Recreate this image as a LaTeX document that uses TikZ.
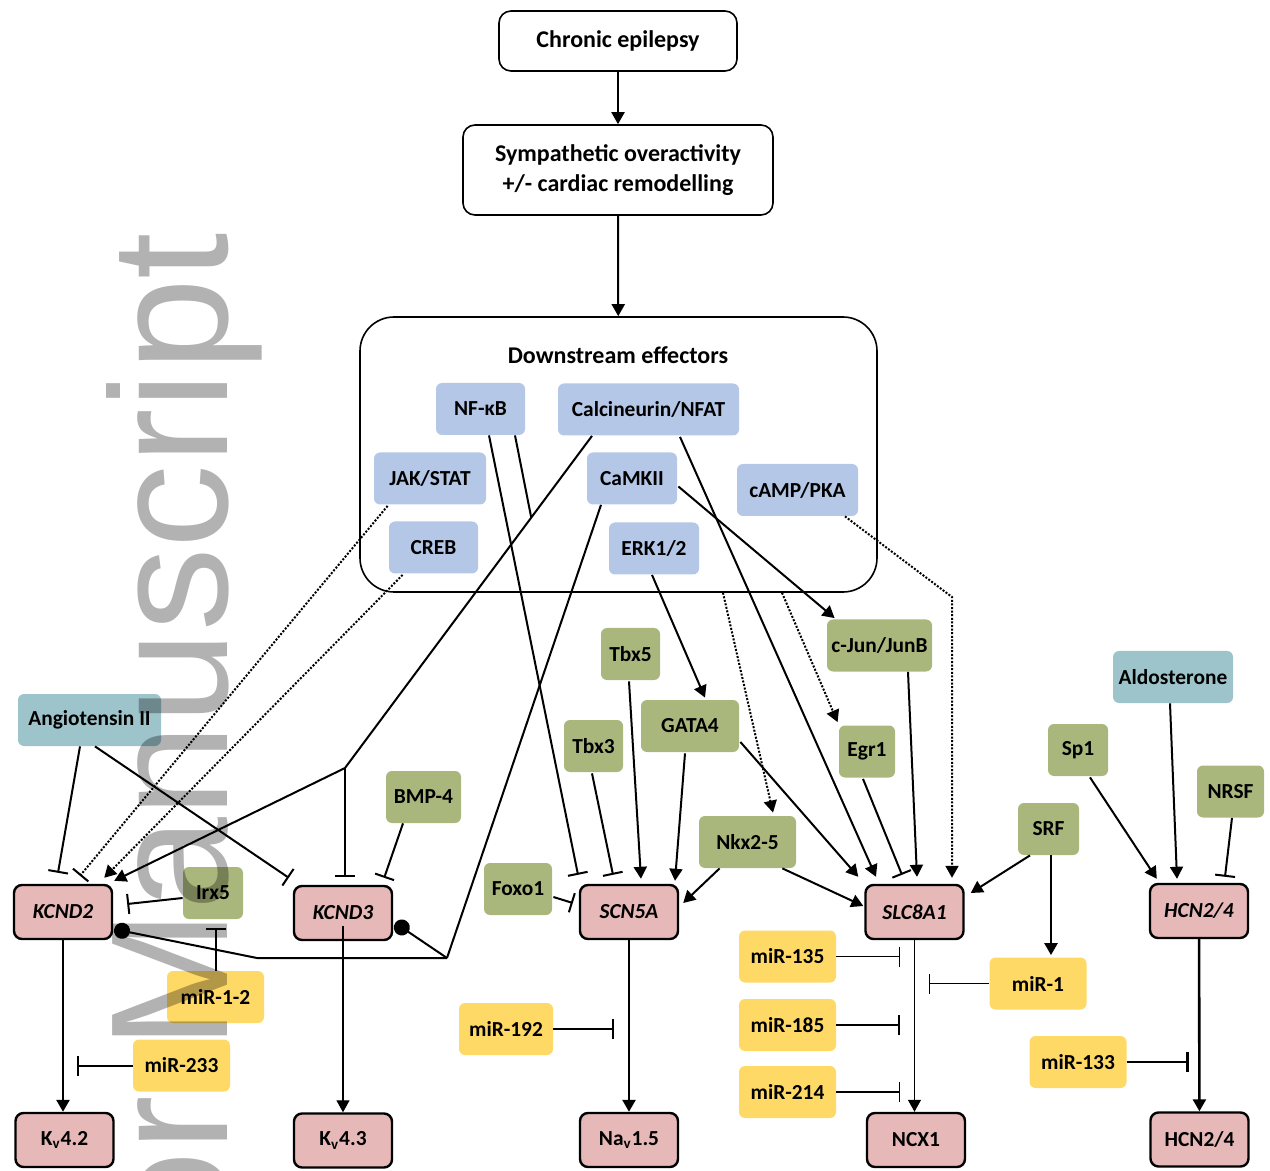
\documentclass[tikz,border=0pt]{standalone}
\usepackage{fontspec}
\setmainfont{Carlito}
\newfontfamily\wmfont{Liberation Sans}
\usetikzlibrary{arrows.meta, positioning, calc}
\definecolor{effblue}{RGB}{180,199,231}
\definecolor{tfgreen}{RGB}{170,183,124}
\definecolor{hormteal}{RGB}{157,195,203}
\definecolor{miryellow}{RGB}{255,217,102}
\definecolor{genepink}{RGB}{230,184,183}
\definecolor{wmgray}{RGB}{178,178,178}
\newcommand\nodefont{\fontsize{10.7}{12}\selectfont\bfseries}
\newcommand\headfont{\fontsize{12}{15}\selectfont\bfseries}

\begin{document}
\begin{tikzpicture}[x=0.5pt, y=-0.5pt, >={Triangle[length=6pt, width=6.5pt]},
  box/.style={rounded corners=3pt, inner sep=1pt, minimum height=26pt, font=\nodefont},
  eff/.style={box, fill=effblue},
  tf/.style={box, fill=tfgreen},
  horm/.style={box, fill=hormteal},
  mir/.style={box, fill=miryellow, minimum width=48.5pt},
  gene/.style={box, draw, line width=1.2pt, fill=genepink, rounded corners=4pt,
               minimum width=49pt, minimum height=27pt, font=\nodefont\itshape},
  prot/.style={gene, font=\nodefont},
  flow/.style={draw, line width=0.8pt, rounded corners=6pt, font=\headfont, align=center},
  act/.style={->, line width=1pt},
  actthin/.style={->, line width=0.6pt},
  inh/.style={-{Bar[width=10pt]}, line width=1pt},
  inhthin/.style={inh, line width=0.6pt},
  dotline/.style={dash pattern=on 1pt off 0.8pt, line width=1pt},
  ball/.style={-{Circle[length=8pt]}, line width=1pt}]
  \useasboundingbox (0,0) rectangle (1270,1171);

  \node[flow, minimum width=119pt, minimum height=30pt] (chronic) at (618,41) {Chronic epilepsy};
  \node[flow, minimum width=155pt, minimum height=45pt] (symp) at (618,170)
    {Sympathetic overactivity\\+/- cardiac remodelling};
  \node[draw, line width=0.8pt, rounded corners=17pt, minimum width=258.5pt,
        minimum height=137.5pt] (down) at (618.5,454.5) {};
  \node[font=\headfont] (downlbl) at (618,355) {Downstream effectors};

  \node[eff, minimum width=44.5pt] (nfkb) at (480.5,409) {NF-κB};
  \node[eff, minimum width=90.5pt] (calc) at (648.5,409.5) {Calcineurin/NFAT};
  \node[eff, minimum width=56pt] (jak) at (430,478.5) {JAK/STAT};
  \node[eff, minimum width=45pt] (camk) at (632,478.5) {CaMKII};
  \node[eff, minimum width=60.5pt] (camp) at (797.5,490) {cAMP/PKA};
  \node[eff, minimum width=44.5pt] (creb) at (433.5,547.5) {CREB};
  \node[eff, minimum width=45pt] (erk) at (654,548.5) {ERK1/2};

  \node[tf, minimum width=29.5pt] (tbx5) at (630.5,654) {Tbx5};
  \node[tf, minimum width=52.5pt] (cjun) at (879.5,645.5) {c-Jun/JunB};
  \node[tf, minimum width=49pt] (gata) at (690,726) {GATA4};
  \node[tf, minimum width=29.5pt] (tbx3) at (593.5,746) {Tbx3};
  \node[tf, minimum width=28pt] (egr) at (867,751.5) {Egr1};
  \node[tf, minimum width=30pt] (sp1) at (1078,750) {Sp1};
  \node[tf, minimum width=37.5pt] (bmp) at (423.5,797) {BMP-4};
  \node[tf, minimum width=33.5pt] (nrsf) at (1230.5,791.5) {NRSF};
  \node[tf, minimum width=30.5pt] (srf) at (1048.5,829) {SRF};
  \node[tf, minimum width=48.5pt] (nkx) at (747.5,842) {Nkx2-5};
  \node[tf, minimum width=34pt] (foxo) at (518,889) {Foxo1};
  \node[tf, minimum width=30pt] (irx) at (213,893) {Irx5};

  \node[horm, minimum width=71.5pt] (angio) at (89.5,720) {Angiotensin II};
  \node[horm, minimum width=60pt] (aldo) at (1173,677) {Aldosterone};

  \node[gene] (kcnd2) at (63,912) {KCND2};
  \node[gene] (kcnd3) at (343,913) {KCND3};
  \node[gene] (scn) at (629,912) {SCN5A};
  \node[gene] (slc) at (914.5,912) {SLC8A1};
  \node[gene] (hcn) at (1199,911) {HCN2/4};

  \node[prot] (kv42) at (64.5,1140) {K\textsubscript{v}4.2};
  \node[prot] (kv43) at (343,1140.5) {K\textsubscript{v}4.3};
  \node[prot] (nav) at (629,1140) {Na\textsubscript{v}1.5};
  \node[prot] (ncx) at (916,1140) {NCX1};
  \node[prot] (hcnp) at (1199.5,1139.5) {HCN2/4};

  \node[mir] (mir12) at (215.5,997) {miR-1-2};
  \node[mir] (mir233) at (181.5,1065.5) {miR-233};
  \node[mir, minimum width=47pt] (mir192) at (506,1029) {miR-192};
  \node[mir] (mir135) at (787.5,956.5) {miR-135};
  \node[mir] (mir185) at (787.5,1025) {miR-185};
  \node[mir] (mir214) at (787.5,1092) {miR-214};
  \node[mir] (mir1) at (1038,983.5) {miR-1};
  \node[mir] (mir133) at (1078,1062) {miR-133};

  \draw[act] (chronic) -- (symp);
  \draw[act] (symp) -- (down);

  \draw[inh] ($(angio.south)+(-9.5,0)$) -- ($(kcnd2.north)+(-5,-11)$);
  \draw[inh] ($(angio.south)+(5.5,0)$) -- ($(kcnd3.north west)+(-4,-7)$);
  \draw[inh, dotline] ($(jak.south west)+(14,1)$) -- ($(kcnd2.north)+(17,-8)$);
  \draw[act, dotline] ($(creb.south west)+(14,1)$) -- ($(kcnd2.north east)+(-9,-6)$);

  \coordinate (cj) at (345,768);
  \coordinate (cs) at ($(calc.south)+(-56.5,0)$);
  \draw[line width=1pt] (cs) -- (cj);
  \draw[act] (cj) -- ($(kcnd2.north east)+(1,-3)$);
  \draw[inh] (cj) -- ($(kcnd3.north)+(2,-8)$);
  \draw[line width=1pt] ($(nfkb.south)+(34.5,0)$) -- ($(cs)!0.246!(cj)$);
  \draw[inh] ($(nfkb.south)+(8.5,0)$) -- ($(scn.north)+(-51,-9)$);

  \coordinate (kj) at (447,958);
  \coordinate (kb) at (257,958);
  \draw[line width=1pt] ($(camk.south)+(-31,0)$) -- (kj);
  \draw[ball] (kj) -- (kb) -- ($(kcnd2.south east)+(1,-11)$);
  \draw[ball] (kj) -- ($(kcnd3.east)+(2,10)$);

  \draw[act] ($(camk.east)+(1,8)$) -- ($(cjun.north west)+(8,-1)$);
  \draw[act] ($(erk.south)+(-2,0)$) -- ($(gata.north)+(15,-2)$);
  \draw[act, dotline] ($(down.south)+(104.5,0)$) -- ($(nkx.north)+(25.5,-3)$);
  \draw[act, dotline] ($(down.south)+(163.5,0)$) -- ($(egr.north west)+(-1,-3)$);
  \coordinate (pc) at (952,597);
  \draw[act, dotline] ($(camp.south)+(47.5,0)$) -- (pc) -- ($(slc.north)+(37.5,-6)$);

  \draw[act] ($(calc.south)+(31.5,1)$) -- ($(slc.north)+(-38.5,-7)$);
  \draw[act] ($(gata.east)+(1,16)$) -- ($(slc.north west)+(-6,-7)$);
  \draw[inh] ($(egr.south)+(-4,1)$) -- ($(slc.north)+(-12.5,-9)$);
  \draw[act] ($(cjun.south)+(28.5,0)$) -- ($(slc.north)+(2.5,-7)$);
  \draw[act] ($(nkx.south east)+(-14,0)$) -- ($(slc.west)+(-1,-6)$);
  \draw[act] ($(nkx.south west)+(21,0)$) -- ($(scn.east)+(4,-9)$);
  \draw[act] ($(srf.south)+(-18.5,0)$) -- ($(slc.east)+(6,-19)$);
  \draw[act, line width=1.3pt] ($(srf.south)+(2.5,0)$) -- ($(mir1.north)+(13,-2)$);

  \draw[act] ($(tbx5.south)+(-1.5,1)$) -- ($(scn.north)+(12,-5)$);
  \draw[act] ($(gata.south)+(-5,1)$) -- ($(scn.north)+(46,-3)$);
  \draw[inh] ($(tbx3.south)+(-1.5,1)$) -- ($(scn.north)+(-16,-9)$);
  \draw[inh] ($(foxo.east)+(1,8)$) -- ($(scn.west)+(-6,-9)$);

  \draw[inh] ($(bmp.south)+(-20.5,0)$) -- ($(kcnd3.north east)+(-9,-7)$);
  \draw[inh] ($(irx.west)+(0,5)$) -- ($(kcnd2.east)+(14,-8)$);
  \draw[inh] ($(mir12.north)+(0.5,0)$) -- ($(irx.south)+(3,9)$);

  \draw[act] ($(sp1.south)+(12,1)$) -- ($(hcn.north west)+(8,-4)$);
  \draw[act] ($(aldo.south)+(-3,0)$) -- ($(hcn.north)+(-22,-4)$);
  \draw[inh] ($(nrsf.south)+(1.5,0)$) -- ($(hcn.north)+(26,-6)$);

  \draw[act, line width=1.3pt] (kcnd2.south) -- (kcnd2.south |- kv42.north);
  \draw[actthin] ($(kcnd3.center)+(0,13)$) -- (kcnd3.center |- kv43.north);
  \draw[act, line width=1.3pt] (scn) -- (nav);
  \draw[actthin] (slc.south) -- (slc.south |- ncx.north);
  \draw[act, line width=1.3pt] (hcn) -- (hcnp);

  \draw[inh] (mir233.west) -- ++(-56,0);
  \draw[inh, line width=1.3pt] (mir192.east) -- ++(61,0);
  \draw[inhthin] (mir135.east) -- ++(64,0);
  \draw[inh, line width=1.3pt] (mir185.east) -- ++(64,0);
  \draw[inhthin] (mir214.east) -- ++(64,0);
  \draw[inhthin] (mir1.west) -- ++(-60,0);
  \draw[inh, line width=1.3pt] (mir133.east) -- ++(62,0);

  \begin{scope}[blend mode=multiply]
    \node[rotate=90, anchor=base east, inner sep=0pt, text=wmgray,
          font=\wmfont\fontsize{83.5}{90}\selectfont] (wm) at (227,232) {Author Manuscript};
  \end{scope}
\end{tikzpicture}
\end{document}
